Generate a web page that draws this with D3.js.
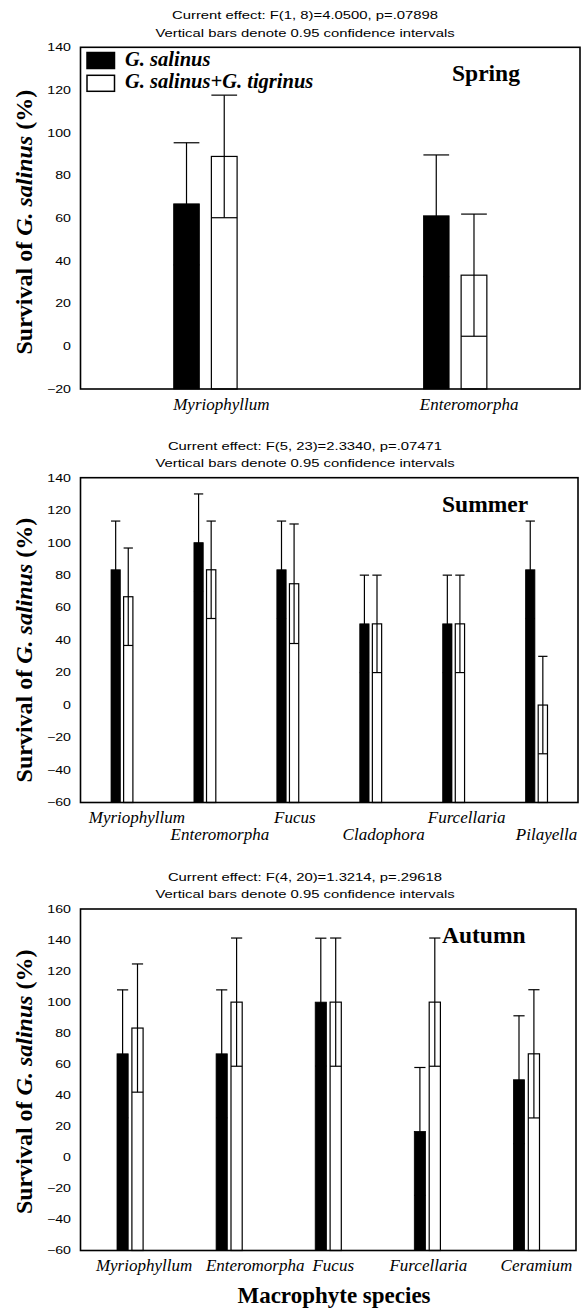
<!DOCTYPE html>
<html>
<head>
<meta charset="utf-8">
<script src="https://cdn.jsdelivr.net/npm/d3@7"></script>
<style>
  body { margin: 0; background: #fff; }
  svg { display: block; }
</style>
</head>
<body>
<div id="chart"></div>
<script>
// ---------------- data ----------------
const seriesNames = ["G. salinus", "G. salinus+G. tigrinus"];

const springCats = ["Myriophyllum", "Enteromorpha"];
const springSalinus = [66.7, 61.1];
const springSalinusCI = [28.6, 28.5];
const springMixed = [88.9, 33.3];
const springMixedCI = [28.7, 28.6];
const springTicks = [-20, 0, 20, 40, 60, 80, 100, 120, 140];
const springStats = ["Current effect: F(1, 8)=4.0500, p=.07898", "Vertical bars denote 0.95 confidence intervals"];

const summerCats = ["Myriophyllum", "Enteromorpha", "Fucus", "Cladophora", "Furcellaria", "Pilayella"];
const summerSalinus = [83.3, 100, 83.3, 50, 50, 83.3];
const summerSalinusCI = [30, 30, 30, 30, 30, 30];
const summerMixed = [66.7, 83.3, 74.7, 50, 50, 0];
const summerMixedCI = [30, 30, 36.8, 30, 30, 30];
const summerTicks = [-60, -40, -20, 0, 20, 40, 60, 80, 100, 120, 140];
const summerStats = ["Current effect: F(5, 23)=2.3340, p=.07471", "Vertical bars denote 0.95 confidence intervals"];

const autumnCats = ["Myriophyllum", "Enteromorpha", "Fucus", "Furcellaria", "Ceramium"];
const autumnSalinus = [66.7, 66.7, 100, 16.7, 50];
const autumnSalinusCI = [41.2, 41.2, 41.2, 41.2, 41.2];
const autumnMixed = [83.3, 100, 100, 100, 66.7];
const autumnMixedCI = [41.3, 41.3, 41.3, 41.3, 41.3];
const autumnTicks = [-60, -40, -20, 0, 20, 40, 60, 80, 100, 120, 140, 160];
const autumnStats = ["Current effect: F(4, 20)=1.3214, p=.29618", "Vertical bars denote 0.95 confidence intervals"];

const xTitle = "Macrophyte species";

// ---------------- layout ----------------
const width = 584, height = 1309;
const serif = "'Liberation Serif', 'Times New Roman', serif";
const sans = "'Liberation Sans', Arial, sans-serif";
const sx = 1.35; // the sans text of the original is drawn wide

const panels = [
  { season: "Spring", cats: springCats, a: springSalinus, aCI: springSalinusCI, b: springMixed, bCI: springMixedCI,
    ticks: springTicks, stats: springStats,
    top: 47.3, bottom: 389, left: 80.5, right: 580, barFrac: 0.103, gap: 12,
    nudge: [16, 14], rows: [0, 0], titleShift: 4, legend: true },
  { season: "Summer", cats: summerCats, a: summerSalinus, aCI: summerSalinusCI, b: summerMixed, bCI: summerMixedCI,
    ticks: summerTicks, stats: summerStats,
    top: 477.7, bottom: 802.5, left: 80.5, right: 578, barFrac: 0.112, gap: 3.3,
    nudge: [15, 15, 7, 13, 13, 10], rows: [0, 1, 0, 1, 0, 1], titleShift: 10 },
  { season: "Autumn", cats: autumnCats, a: autumnSalinus, aCI: autumnSalinusCI, b: autumnMixed, bCI: autumnMixedCI,
    ticks: autumnTicks, stats: autumnStats,
    top: 909, bottom: 1250.5, left: 80.5, right: 576, barFrac: 0.113, gap: 3.7,
    nudge: [14, 26, 5, 1, 10], rows: [0, 0, 0, 0, 0], titleShift: 2 }
];

const svg = d3.select("#chart").append("svg")
  .attr("width", width)
  .attr("height", height)
  .style("background", "#fff");

panels.forEach(p => drawPanel(p));

// x axis title under the last panel
svg.append("text")
  .attr("x", 334)
  .attr("y", 1303)
  .attr("text-anchor", "middle")
  .style("font-family", serif)
  .style("font-weight", "bold")
  .style("font-size", "23px")
  .text(xTitle);

function drawPanel(p) {
  const g = svg.append("g");

  const y = d3.scaleLinear()
    .domain([p.ticks[0], p.ticks[p.ticks.length - 1]])
    .range([p.bottom, p.top]);

  const x = d3.scaleBand()
    .domain(p.cats)
    .range([p.left, p.right])
    .padding(0);

  const bw = x.bandwidth() * p.barFrac;
  const xs = d3.scaleBand()
    .domain(seriesNames)
    .range([-(bw + p.gap / 2), bw + p.gap / 2])
    .paddingInner(p.gap / (bw + p.gap))
    .paddingOuter(0);

  // stats lines above the frame
  p.stats.forEach((s, i) => {
    g.append("g")
      .attr("transform", `translate(305, ${p.top - 10.8 - (1 - i) * 17.2}) scale(${sx},1)`)
      .append("text")
      .attr("text-anchor", "middle")
      .style("font-family", sans)
      .style("font-size", "11px")
      .text(s);
  });

  // y axis labels
  const yAxis = g.append("g")
    .attr("transform", `translate(${p.left},0)`)
    .call(d3.axisLeft(y).tickValues(p.ticks).tickSize(0).tickPadding(0));
  yAxis.select(".domain").remove();
  yAxis.selectAll("text")
    .attr("x", -9.5 / sx)
    .attr("transform", `scale(${sx},1)`)
    .style("font-family", sans)
    .style("font-size", "10.5px")
    .attr("fill", "#000");

  // y axis title
  const yt = g.append("text")
    .attr("transform", `translate(32, ${(p.top + p.bottom) / 2 + p.titleShift}) rotate(-90)`)
    .attr("text-anchor", "middle")
    .style("font-family", serif)
    .style("font-weight", "bold")
    .style("font-size", "24px");
  yt.append("tspan").text("Survival of ");
  yt.append("tspan").style("font-style", "italic").text("G. salinus");
  yt.append("tspan").text(" (%)");

  // bars
  const rows = p.cats.map((c, i) => [
    { cat: c, s: seriesNames[0], v: p.a[i], ci: p.aCI[i] },
    { cat: c, s: seriesNames[1], v: p.b[i], ci: p.bCI[i] }
  ]).flat();

  const base = y.domain()[0];

  g.selectAll(".bar")
    .data(rows)
    .join("rect")
    .attr("class", "bar")
    .attr("x", d => x(d.cat) + x.bandwidth() / 2 + xs(d.s))
    .attr("width", xs.bandwidth())
    .attr("y", d => y(d.v))
    .attr("height", d => y(base) - y(d.v))
    .attr("fill", d => d.s === seriesNames[0] ? "#000" : "#fff")
    .attr("stroke", "#000")
    .attr("stroke-width", d => d.s === seriesNames[0] ? 0.8 : 1.2);

  // confidence intervals
  const eb = g.selectAll(".err")
    .data(rows)
    .join("g")
    .attr("class", "err")
    .attr("transform", d => `translate(${x(d.cat) + x.bandwidth() / 2 + xs(d.s) + xs.bandwidth() / 2},0)`)
    .attr("stroke", "#000")
    .attr("stroke-width", 1.2);

  eb.append("line")
    .attr("x1", 0).attr("x2", 0)
    .attr("y1", d => y(Math.max(d.v - d.ci, base)))
    .attr("y2", d => y(d.v + d.ci));
  eb.append("line")
    .attr("x1", -xs.bandwidth() / 2).attr("x2", xs.bandwidth() / 2)
    .attr("y1", d => y(d.v + d.ci)).attr("y2", d => y(d.v + d.ci));
  eb.filter(d => d.v - d.ci > base)
    .append("line")
    .attr("x1", -xs.bandwidth() / 2).attr("x2", xs.bandwidth() / 2)
    .attr("y1", d => y(d.v - d.ci)).attr("y2", d => y(d.v - d.ci));

  // frame
  g.append("rect")
    .attr("x", p.left)
    .attr("y", p.top)
    .attr("width", p.right - p.left)
    .attr("height", p.bottom - p.top)
    .attr("fill", "none")
    .attr("stroke", "#000")
    .attr("stroke-width", 1.6);

  // category labels
  g.selectAll(".cat")
    .data(p.cats)
    .join("text")
    .attr("class", "cat")
    .attr("x", (d, i) => x(d) + x.bandwidth() / 2 + p.nudge[i])
    .attr("y", (d, i) => p.bottom + 20.5 + p.rows[i] * 16.5)
    .attr("text-anchor", "middle")
    .style("font-family", serif)
    .style("font-style", "italic")
    .style("font-size", "17px")
    .text(d => d);

  // season label
  g.append("text")
    .attr("x", p.season === "Spring" ? 452 : 442)
    .attr("y", p.top + 34)
    .style("font-family", serif)
    .style("font-weight", "bold")
    .style("font-size", "23.5px")
    .text(p.season);

  if (p.legend) {
    const lg = g.append("g");
    seriesNames.forEach((s, i) => {
      lg.append("rect")
        .attr("x", 87)
        .attr("y", 52.5 + i * 22.8)
        .attr("width", 27.5)
        .attr("height", 16)
        .attr("fill", i === 0 ? "#000" : "#fff")
        .attr("stroke", "#000")
        .attr("stroke-width", 1.5);
      lg.append("text")
        .attr("x", 125)
        .attr("y", 66 + i * 21.8)
        .style("font-family", serif)
        .style("font-weight", "bold")
        .style("font-style", "italic")
        .style("font-size", "20.5px")
        .text(s);
    });
  }
}
</script>
</body>
</html>
